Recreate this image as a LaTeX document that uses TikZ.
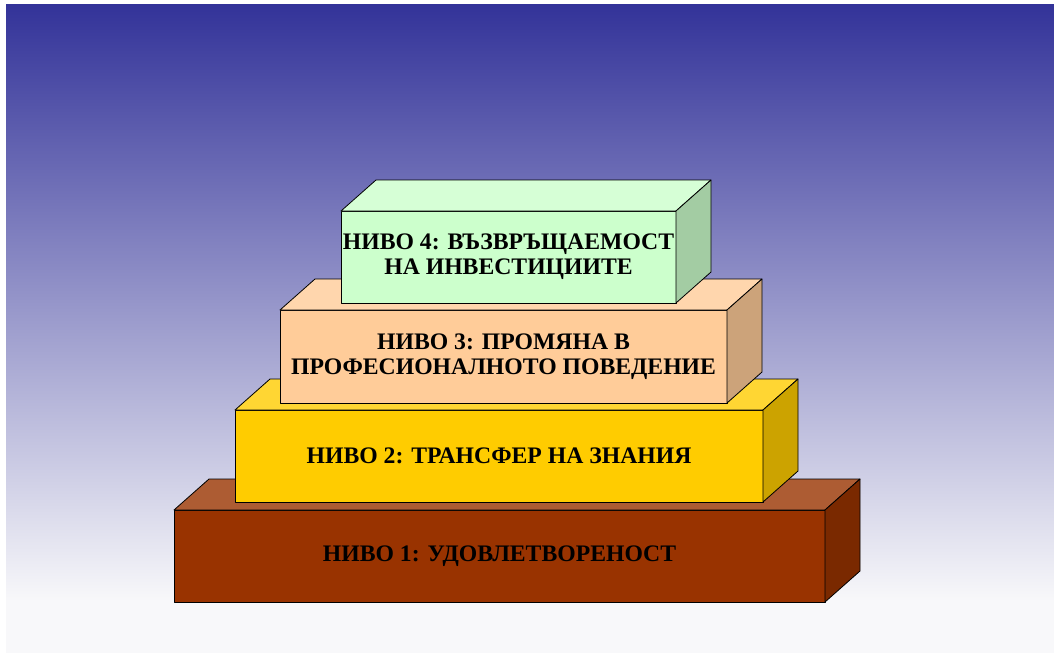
\documentclass[tikz,border=0pt]{standalone}
\usepackage{fontspec}
\setmainfont{Liberation Serif}
\usetikzlibrary{calc}
\definecolor{bgtop}{HTML}{333399}
\definecolor{bgmid}{HTML}{A4A4C8}
\definecolor{bgbot}{HTML}{F8F8FA}
\definecolor{bafront}{HTML}{993300}
\definecolor{batop}{HTML}{AD5C33}
\definecolor{baside}{HTML}{7A2900}
\definecolor{bbfront}{HTML}{FFCC00}
\definecolor{bbtop}{HTML}{FFD633}
\definecolor{bbside}{HTML}{CCA300}
\definecolor{bcfront}{HTML}{FFCC99}
\definecolor{bctop}{HTML}{FFD6AD}
\definecolor{bcside}{HTML}{CCA37A}
\definecolor{bdfront}{HTML}{CCFFCC}
\definecolor{bdtop}{HTML}{D6FFD6}
\definecolor{bdside}{HTML}{A3CCA3}
\begin{document}
\begin{tikzpicture}[x=1pt,y=-1pt,
  face/.style={draw=black, line width=0.8pt, line join=round},
  frontface/.style={face, inner sep=0pt, outer sep=0pt, anchor=north west, align=center,
    text=black, font=\bfseries\fontsize{23.7}{25}\selectfont}]
\useasboundingbox (0,0) rectangle (1054,653);
\fill[white] (0,0) rectangle (1054,653);
\fill[bgbot] (6,600) rectangle (1054,653);
\shade[top color=bgtop, middle color=bgmid, bottom color=bgbot] (6,4) rectangle (1054,601);
% level 1
\node[frontface, fill=bafront, minimum width=651pt, minimum height=92pt] (n1) at (174,510) {НИВО 1: УДОВЛЕТВОРЕНОСТ};
\draw[face, fill=batop] (n1.north west) -- ++(35,-31) -- ($(n1.north east)+(35,-31)$) -- (n1.north east) -- cycle;
\draw[face, fill=baside] (n1.north east) -- ++(35,-31) -- ($(n1.south east)+(35,-31)$) -- (n1.south east) -- cycle;
% level 2
\node[frontface, fill=bbfront, minimum width=528pt, minimum height=92pt] (n2) at (235,410) {НИВО 2: ТРАНСФЕР НА ЗНАНИЯ};
\draw[face, fill=bbtop] (n2.north west) -- ++(35,-31) -- ($(n2.north east)+(35,-31)$) -- (n2.north east) -- cycle;
\draw[face, fill=bbside] (n2.north east) -- ++(35,-31) -- ($(n2.south east)+(35,-31)$) -- (n2.south east) -- cycle;
% level 3
\node[frontface, fill=bcfront, minimum width=447pt, minimum height=93pt] (n3) at (280,310) {НИВО 3: ПРОМЯНА В\\ПРОФЕСИОНАЛНОТО ПОВЕДЕНИЕ};
\draw[face, fill=bctop] (n3.north west) -- ++(35,-31) -- ($(n3.north east)+(35,-31)$) -- (n3.north east) -- cycle;
\draw[face, fill=bcside] (n3.north east) -- ++(35,-31) -- ($(n3.south east)+(35,-31)$) -- (n3.south east) -- cycle;
% level 4
\node[frontface, fill=bdfront, minimum width=335pt, minimum height=92pt] (n4) at (341,211) {НИВО 4: ВЪЗВРЪЩАЕМОСТ\\НА ИНВЕСТИЦИИТЕ};
\draw[face, fill=bdtop] (n4.north west) -- ++(35,-31) -- ($(n4.north east)+(35,-31)$) -- (n4.north east) -- cycle;
\draw[face, fill=bdside] (n4.north east) -- ++(35,-31) -- ($(n4.south east)+(35,-31)$) -- (n4.south east) -- cycle;
\end{tikzpicture}
\end{document}
